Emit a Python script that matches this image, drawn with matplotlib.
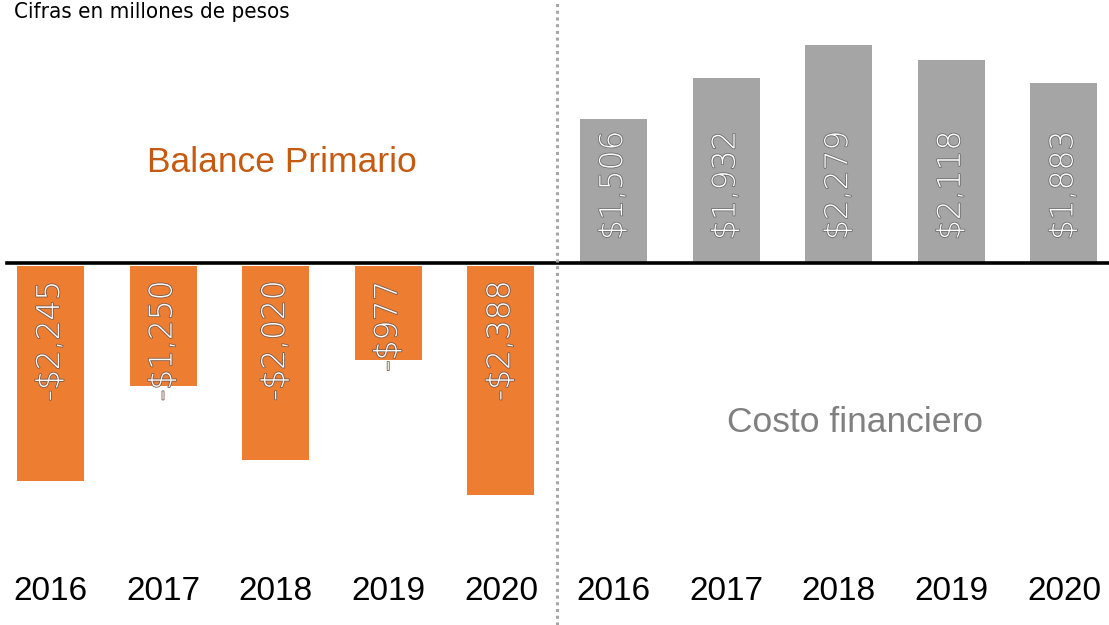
import matplotlib
matplotlib.use("Agg")
import matplotlib.pyplot as plt
import matplotlib.patheffects as pe

years = ["2016", "2017", "2018", "2019", "2020"]
balance_primario = [-2245, -1250, -2020, -977, -2388]
costo_financiero = [1506, 1932, 2279, 2118, 1883]

naranja = "#ED7D31"
gris = "#A5A5A5"

fig = plt.figure(figsize=(11.09, 6.25), dpi=100)
ax = fig.add_axes([0, 0, 1, 1])
ax.axis("off")

x_bal = list(range(5))
x_cos = list(range(5, 10))
ax.bar(x_bal, balance_primario, width=0.595, color=naranja, bottom=-35)
ax.bar(x_cos, costo_financiero, width=0.595, color=gris)

ax.set_xlim(-0.448, 9.40)
ax.set_ylim(-3783, 2748)

# linea del cero y separador
ax.axhline(0, xmin=7 / 1109, xmax=1, color="black", lw=2.6, zorder=3)
ax.axvline(4.5, color="#A6A6A6", lw=2.2, ls=(0, (1, 1.2)), zorder=3)

contorno = [pe.withStroke(linewidth=1.2, foreground="#7a5a4a")]
for x, v in zip(x_bal, balance_primario):
    ax.text(x, -185, "-${:,}".format(abs(v)), rotation=90, ha="center", va="top",
            color="white", fontsize=22.5, family="DejaVu Sans", fontweight="light",
            path_effects=contorno, zorder=4)
contorno_g = [pe.withStroke(linewidth=1.2, foreground="#6e6e6e")]
for x, v in zip(x_cos, costo_financiero):
    ax.text(x, 240, "${:,}".format(v), rotation=90, ha="center", va="bottom",
            color="white", fontsize=22.5, family="DejaVu Sans", fontweight="light",
            path_effects=contorno_g, zorder=4)

# etiquetas de años
for x, y in zip(x_bal + x_cos, years + years):
    ax.text(x, 0.053, y, transform=ax.get_xaxis_transform(), ha="center", va="center",
            fontsize=24, family="Liberation Sans", color="black")

ax.text(282 / 1109, 1 - 163 / 625, "Balance Primario", transform=ax.transAxes,
        ha="center", va="center", fontsize=25.5, family="Liberation Sans", color="#C55A11")
ax.text(855 / 1109, 1 - 423 / 625, "Costo financiero", transform=ax.transAxes,
        ha="center", va="center", fontsize=25.5, family="Liberation Sans", color="#808080")

ax.text(14 / 1109, 1 - 18 / 625, "Cifras en millones de pesos", transform=ax.transAxes,
        ha="left", va="baseline", fontsize=16, family="DejaVu Sans",
        fontstretch="condensed", color="black")

fig.savefig("out.png", dpi=100)
